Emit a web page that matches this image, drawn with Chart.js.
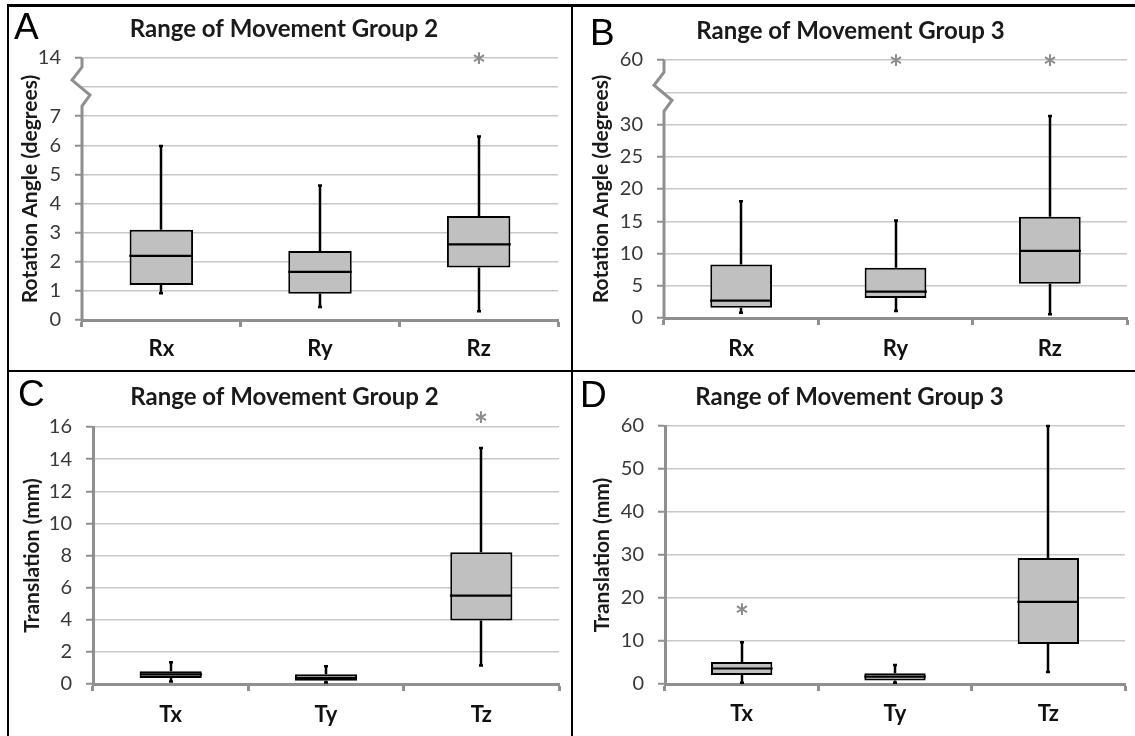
<!DOCTYPE html>
<html>
<head>
<meta charset="utf-8">
<script src="https://cdn.jsdelivr.net/npm/chart.js@4.4.1/dist/chart.umd.min.js"></script>
<style>
  html, body { margin: 0; padding: 0; background: #fff; }
  #page { position: relative; width: 1135px; height: 736px; overflow: hidden; background: #fff; }
  .panel { position: absolute; }
  .rule { position: absolute; background: #000; }
  .letter { position: absolute; font-family: "Liberation Sans", Arial, sans-serif; font-size: 37px; line-height: 37px; color: #000; }
</style>
</head>
<body>
<div id="page">
  <canvas id="chartA" class="panel" style="left:10px;top:6px" width="560" height="362"></canvas>
  <canvas id="chartB" class="panel" style="left:574px;top:6px" width="561" height="362"></canvas>
  <canvas id="chartC" class="panel" style="left:10px;top:372px" width="560" height="364"></canvas>
  <canvas id="chartD" class="panel" style="left:574px;top:372px" width="561" height="364"></canvas>

  <div class="rule" style="left:7px;top:4px;width:1128px;height:3px"></div>
  <div class="rule" style="left:7px;top:4px;width:2px;height:732px"></div>
  <div class="rule" style="left:571px;top:4px;width:2px;height:732px"></div>
  <div class="rule" style="left:7px;top:370px;width:1128px;height:2px"></div>

  <div class="letter" style="left:14px;top:8px">A</div>
  <div class="letter" style="left:590px;top:14px">B</div>
  <div class="letter" style="left:18px;top:375px">C</div>
  <div class="letter" style="left:580px;top:376px">D</div>
</div>
<script>
const rotLabels = ['Rx', 'Ry', 'Rz'];
const transLabels = ['Tx', 'Ty', 'Tz'];

// Group 2 - rotation (degrees)
const rotG2Min = [0.92, 0.45, 0.3];
const rotG2Q1 = [1.2, 0.9, 1.8];
const rotG2Med = [2.2, 1.65, 2.6];
const rotG2Q3 = [3.1, 2.37, 3.57];
const rotG2Max = [5.98, 4.62, 6.3];
const rotG2Outliers = [null, null, 14];

// Group 3 - rotation (degrees)
const rotG3Min = [0.8, 1.1, 0.6];
const rotG3Q1 = [1.6, 3.1, 5.3];
const rotG3Med = [2.7, 4.1, 10.4];
const rotG3Q3 = [8.3, 7.8, 15.7];
const rotG3Max = [18.1, 15.1, 31.3];
const rotG3Outliers = [null, 60, 60];

// Group 2 - translation (mm)
const trG2Min = [0.15, 0.1, 1.15];
const trG2Q1 = [0.38, 0.2, 3.95];
const trG2Med = [0.6, 0.38, 5.5];
const trG2Q3 = [0.8, 0.6, 8.2];
const trG2Max = [1.35, 1.1, 14.7];
const trG2Outliers = [null, null, 16.6];

// Group 3 - translation (mm)
const trG3Min = [0.3, 0.3, 2.8];
const trG3Q1 = [2.1, 0.8, 9.3];
const trG3Med = [3.6, 1.7, 19.1];
const trG3Q3 = [5.1, 2.5, 29.3];
const trG3Max = [9.7, 4.4, 60];
const trG3Outliers = [17.5, null, null];

// tick labels (broken axes: '' = hidden line under the break)
const rotG2TickLabels = ['0', '1', '2', '3', '4', '5', '6', '7', '', '14'];
const rotG3TickLabels = ['0', '5', '10', '15', '20', '25', '30', '', '60'];
const trG2TickLabels = ['0', '2', '4', '6', '8', '10', '12', '14', '16'];
const trG3TickLabels = ['0', '10', '20', '30', '40', '50', '60'];

const GRID = '#c8c8c8';
const AXIS = '#8f8f8f';
const TEXT = '#383838';
const BOX_FILL = '#c0c0c0';

// values above the break are squeezed into the last step of the axis
function breakMap(brk) {
  return v => (!brk || v <= brk.from) ? v : brk.from + (v - brk.from) * (brk.top - brk.from) / (brk.to - brk.from);
}

const boxPlugin = {
  id: 'boxWhiskers',
  afterDatasetsDraw(chart, args, opts) {
    const p = opts.panel;
    const {ctx, scales: {x, y}} = chart;
    const map = breakMap(p.brk);
    const bars = chart.getDatasetMeta(0).data;
    const py = v => y.getPixelForValue(map(v));
    ctx.save();
    ctx.strokeStyle = '#000';
    ctx.lineWidth = 2.5;
    p.labels.forEach((lab, i) => {
      const cx = Math.round(x.getPixelForValue(i));
      const half = bars[i].width / 2;
      // whiskers
      ctx.beginPath();
      ctx.moveTo(cx, py(p.q1[i])); ctx.lineTo(cx, py(p.min[i]));
      ctx.moveTo(cx, py(p.q3[i])); ctx.lineTo(cx, py(p.max[i]));
      ctx.moveTo(cx - 2, py(p.min[i])); ctx.lineTo(cx + 2, py(p.min[i]));
      ctx.moveTo(cx - 2, py(p.max[i])); ctx.lineTo(cx + 2, py(p.max[i]));
      ctx.stroke();
      // median
      ctx.lineWidth = 2.2;
      ctx.beginPath();
      ctx.moveTo(cx - half, py(p.med[i])); ctx.lineTo(cx + half, py(p.med[i]));
      ctx.stroke();
      ctx.lineWidth = 2.5;
      // outlier
      if (p.out[i] != null) {
        ctx.font = 'bold 34px Lato';
        ctx.fillStyle = '#8c8c8c';
        ctx.textAlign = 'center';
        ctx.textBaseline = 'alphabetic';
        const m = ctx.measureText('*');
        ctx.fillText('*', cx, py(p.out[i]) + (m.actualBoundingBoxAscent - m.actualBoundingBoxDescent) / 2);
      }
    });
    ctx.restore();
  },
  afterDraw(chart, args, opts) {
    const p = opts.panel;
    if (!p.brk) return;
    const {ctx, chartArea, scales: {y}} = chart;
    const L = chartArea.left;
    const gy = y.getPixelForValue(p.brk.from);
    ctx.save();
    ctx.strokeStyle = AXIS;
    ctx.lineWidth = 3;
    ctx.beginPath();
    ctx.moveTo(L, chartArea.bottom + 1.5);
    ctx.lineTo(L, gy + 19);
    ctx.lineTo(L + 8, gy + 8);
    ctx.lineTo(L - 10, gy - 7);
    ctx.lineTo(L, gy - 20);
    ctx.lineTo(L, chartArea.top);
    ctx.stroke();
    ctx.restore();
  }
};

const panels = [
  { id: 'chartA', labels: rotLabels, min: rotG2Min, q1: rotG2Q1, med: rotG2Med, q3: rotG2Q3, max: rotG2Max, out: rotG2Outliers,
    title: 'Range of Movement Group 2', yTitle: 'Rotation Angle (degrees)', step: 1, top: 9, tickLabels: rotG2TickLabels,
    brk: { from: 8, to: 14, top: 9 }, w: 560, h: 362, box: { l: 72, r: 548, t: 52, b: 314 }, titleY: 23.5, yTitleX: 20, xPad: 9 },
  { id: 'chartB', labels: rotLabels, min: rotG3Min, q1: rotG3Q1, med: rotG3Med, q3: rotG3Q3, max: rotG3Max, out: rotG3Outliers,
    title: 'Range of Movement Group 3', yTitle: 'Rotation Angle (degrees)', step: 5, top: 40, tickLabels: rotG3TickLabels,
    brk: { from: 35, to: 60, top: 40 }, w: 561, h: 362, box: { l: 90, r: 553, t: 54, b: 312 }, titleY: 25, yTitleX: 27.5, xPad: 11 },
  { id: 'chartC', labels: transLabels, min: trG2Min, q1: trG2Q1, med: trG2Med, q3: trG2Q3, max: trG2Max, out: trG2Outliers,
    title: 'Range of Movement Group 2', yTitle: 'Translation (mm)', step: 2, top: 16, tickLabels: trG2TickLabels,
    brk: null, w: 560, h: 364, box: { l: 83, r: 549, t: 55, b: 312 }, titleY: 25, yTitleX: 22, xPad: 11 },
  { id: 'chartD', labels: transLabels, min: trG3Min, q1: trG3Q1, med: trG3Med, q3: trG3Q3, max: trG3Max, out: trG3Outliers,
    title: 'Range of Movement Group 3', yTitle: 'Translation (mm)', step: 10, top: 60, tickLabels: trG3TickLabels,
    brk: null, w: 561, h: 364, box: { l: 91, r: 551, t: 54, b: 312 }, titleY: 25, yTitleX: 28, xPad: 10 }
];

const TITLE_SIZE = 24;
const YTITLE_SIZE = 21;

panels.forEach(p => {
  const map = breakMap(p.brk);
  const padTop = p.titleY - TITLE_SIZE * 0.6;
  const titleBottom = p.box.t - padTop - TITLE_SIZE * 1.2;
  new Chart(document.getElementById(p.id), {
    type: 'bar',
    data: {
      labels: p.labels,
      datasets: [{
        data: p.labels.map((_, i) => [map(p.q1[i]), map(p.q3[i])]),
        backgroundColor: BOX_FILL,
        borderColor: '#000',
        borderWidth: 2,
        borderSkipped: false,
        barPercentage: 0.4,
        categoryPercentage: 1
      }]
    },
    options: {
      responsive: false,
      devicePixelRatio: 1,
      animation: false,
      layout: { padding: { top: padTop, right: p.w - p.box.r, bottom: 0, left: 0 } },
      plugins: {
        legend: { display: false },
        tooltip: { enabled: false },
        title: {
          display: true, text: p.title, color: '#1a1a1a',
          font: { family: 'Lato', size: TITLE_SIZE, weight: 'bold' },
          padding: { top: 0, bottom: titleBottom }
        },
        boxWhiskers: { panel: p }
      },
      scales: {
        x: {
          grid: { offset: true, drawOnChartArea: false, drawTicks: true, tickLength: 7, tickWidth: 3, tickColor: AXIS, color: AXIS },
          border: { display: true, color: AXIS, width: 3 },
          ticks: { color: '#111', font: { family: 'Lato', size: 22, weight: 'bold' }, padding: p.xPad, maxRotation: 0 },
          afterFit: s => { s.height = p.h - p.box.b; }
        },
        y: {
          min: 0, max: p.top,
          ticks: {
            stepSize: p.step, autoSkip: false, color: TEXT, padding: 14,
            font: { family: 'Lato', size: 20 },
            callback: v => p.tickLabels[Math.round(v / p.step)]
          },
          grid: {
            color: GRID, lineWidth: 1.5, drawTicks: true, tickLength: 7, tickWidth: 2,
            tickColor: c => (c.tick && p.tickLabels[Math.round(c.tick.value / p.step)] === '') ? 'rgba(0,0,0,0)' : AXIS
          },
          border: { display: !p.brk, color: AXIS, width: 3 },
          title: {
            display: true, text: p.yTitle, color: '#1a1a1a',
            font: { family: 'Lato', size: YTITLE_SIZE, weight: 'bold' },
            padding: { top: p.yTitleX - YTITLE_SIZE * 0.6, bottom: 0 }
          },
          afterFit: s => { s.width = p.box.l; }
        }
      }
    },
    plugins: [boxPlugin]
  });
});
</script>
</body>
</html>
